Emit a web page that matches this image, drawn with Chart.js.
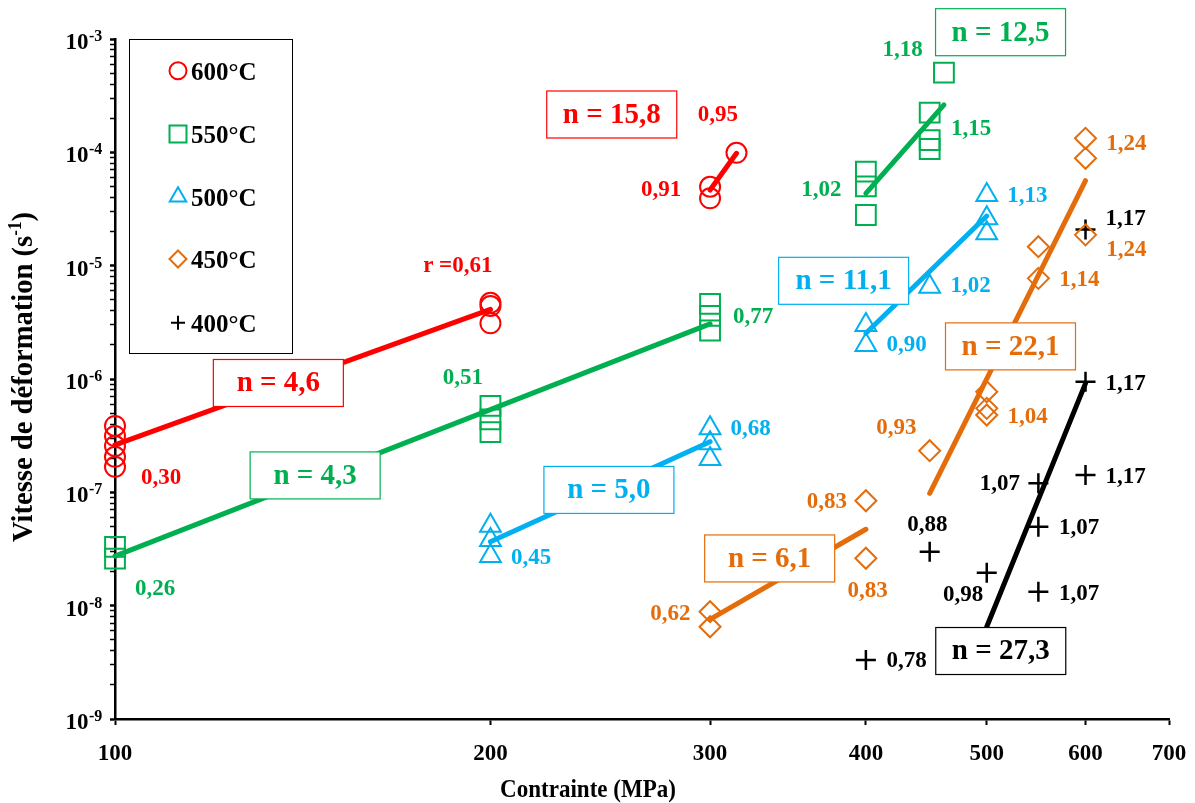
<!DOCTYPE html>
<html>
<head>
<meta charset="utf-8">
<script src="https://cdn.jsdelivr.net/npm/chart.js"></script>
<style>
  body { margin: 0; background: #fff; }
</style>
</head>
<body>
<canvas id="creepChart" width="1195" height="803"></canvas>
<script>
const FONT = "'Liberation Serif', 'Times New Roman', serif"

const temperatures = ['600°C', '550°C', '500°C', '450°C', '400°C']
const colors = ['#ff0000', '#00b050', '#00b0f0', '#e46c0a', '#000000']
const markers = ['circle', 'rect', 'triangle', 'rectRot', 'cross']
const markerRadius = [10, 14, 12, 10.5, 10]
const legendRadius = [8.5, 12, 9.5, 8.5, 7]

// measured points : stress (MPa) and strain rate (s-1)
const stress600 = [100, 100, 100, 100, 100, 200, 200, 200, 300, 300, 315]
const rate600 = [3.85e-7, 3.14e-7, 2.56e-7, 2.06e-7, 1.68e-7, 4.7e-6, 4.4e-6, 3.1e-6, 4.97e-5, 3.93e-5, 9.9e-5]

const stress550 = [100, 100, 200, 200, 200, 300, 300, 300, 400, 400, 400, 450, 450, 450, 462]
const rate550 = [3.3e-8, 2.6e-8, 5.8e-7, 4.4e-7, 3.4e-7, 4.6e-6, 3.6e-6, 2.68e-6, 6.75e-5, 5.0e-5, 2.8e-5, 2.24e-4, 1.28e-4, 1.07e-4, 5.05e-4]

const stress500 = [200, 200, 200, 300, 300, 300, 400, 400, 450, 500, 500, 500]
const rate500 = [5.08e-8, 3.8e-8, 2.74e-8, 3.67e-7, 2.71e-7, 1.97e-7, 2.99e-6, 2.0e-6, 6.52e-6, 4.2e-5, 2.62e-5, 1.93e-5]

const stress450 = [300, 300, 400, 400, 450, 500, 500, 500, 550, 550, 600, 600, 600]
const rate450 = [8.85e-9, 6.52e-9, 8.43e-8, 2.62e-8, 2.33e-7, 7.72e-7, 5.51e-7, 4.81e-7, 1.47e-5, 7.73e-6, 1.33e-4, 8.86e-5, 1.87e-5]

const stress400 = [400, 450, 500, 550, 550, 550, 600, 600, 600]
const rate400 = [3.31e-9, 2.99e-8, 1.95e-8, 1.2e-7, 4.98e-8, 1.33e-8, 9.46e-7, 1.42e-7, 2.09e-5]

const allStress = [stress600, stress550, stress500, stress450, stress400]
const allRate = [rate600, rate550, rate500, rate450, rate400]

// fitted lines (end points)
const fitSeries = [0, 0, 1, 1, 2, 2, 3, 3, 4]
const fitStress = [[100, 200], [300, 315], [100, 300], [400, 462], [200, 300], [400, 500], [300, 400], [450, 600], [500, 600]]
const fitRate = [[2.62e-7, 4.12e-6], [4.65e-5, 9.8e-5], [2.74e-8, 3.06e-6], [4.35e-5, 2.62e-4], [3.67e-8, 2.8e-7], [2.53e-6, 2.74e-5], [7.57e-9, 4.72e-8], [9.8e-8, 5.62e-5], [6.52e-9, 9.16e-7]]

// stress exponent boxes
const nText = ['n = 4,6', 'n = 15,8', 'n = 4,3', 'n = 12,5', 'n = 5,0', 'n = 11,1', 'n = 6,1', 'n = 22,1', 'n = 27,3']
const nSeries = [0, 0, 1, 1, 2, 2, 3, 3, 4]
const nStress = [135.2, 250.2, 144.7, 512.9, 248.9, 383.9, 334.9, 522.4, 513.1]
const nRate = [9.22e-7, 2.157e-4, 1.41e-7, 1.148e-3, 1.05e-7, 7.35e-6, 2.61e-8, 1.94e-6, 3.98e-9]

// small value labels
const noteText = [
  '0,30', 'r =0,61', '0,95', '0,91',
  '0,26', '0,51', '0,77', '1,02', '1,18', '1,15',
  '0,45', '0,68', '0,90', '1,02', '1,13',
  '0,62', '0,83', '0,83', '0,93', '1,04', '1,14', '1,24', '1,24',
  '1,17', '1,17', '1,17', '1,07', '1,07', '1,07', '0,88', '0,98', '0,78'
]
const noteSeries = [0, 0, 0, 0, 1, 1, 1, 1, 1, 1, 2, 2, 2, 2, 2, 3, 3, 3, 3, 3, 3, 3, 3, 4, 4, 4, 4, 4, 4, 4, 4, 4]
const noteStress = [
  108.9, 188.3, 304.3, 274.1,
  107.7, 190.1, 324.8, 368.4, 428.1, 485.7,
  215.6, 323.3, 431.3, 485.3, 538.9,
  278.8, 372.2, 401.2, 423.1, 539.1, 593.3, 647.1, 647.1,
  646.2, 646.2, 646.2, 512.2, 593, 593, 448, 478.6, 431.3
]
const noteRate = [
  1.37e-7, 1.01e-5, 2.165e-4, 4.72e-5,
  1.42e-8, 1.03e-6, 3.6e-6, 4.72e-5, 8.11e-4, 1.65e-4,
  2.67e-8, 3.67e-7, 2.04e-6, 6.75e-6, 4.2e-5,
  8.57e-9, 8.43e-8, 1.37e-8, 3.79e-7, 4.71e-7, 7.59e-6, 1.2e-4, 1.39e-5,
  2.62e-5, 9.16e-7, 1.39e-7, 1.2e-7, 4.91e-8, 1.29e-8, 5.25e-8, 1.27e-8, 3.31e-9
]

const xTicks = [100, 200, 300, 400, 500, 600, 700]
const yDecades = [-9, -8, -7, -6, -5, -4, -3]

const datasets = []
allStress.forEach((xs, s) => {
  datasets.push({
    type: 'scatter',
    label: temperatures[s],
    data: xs.map((x, i) => ({ x: x, y: allRate[s][i] })),
    pointStyle: markers[s],
    pointRadius: markerRadius[s],
    pointBorderWidth: s === 4 ? 2.5 : 2,
    borderColor: colors[s],
    backgroundColor: 'rgba(0,0,0,0)',
    showLine: false,
    clip: false,
    order: 1
  })
})
fitSeries.forEach((s, i) => {
  datasets.push({
    type: 'line',
    label: 'fit',
    data: fitStress[i].map((x, k) => ({ x: x, y: fitRate[i][k] })),
    borderColor: colors[s],
    borderWidth: 5,
    borderCapStyle: 'round',
    pointRadius: 0,
    fill: false,
    clip: false,
    order: 0
  })
})

function drawMarker (c, style, x, y, r) {
  c.beginPath()
  if (style === 'circle') {
    c.arc(x, y, r, 0, Math.PI * 2)
  } else if (style === 'rect') {
    const h = r * Math.SQRT1_2
    c.rect(x - h, y - h, 2 * h, 2 * h)
  } else if (style === 'triangle') {
    c.moveTo(x, y - r)
    c.lineTo(x + r * 0.866, y + r / 2)
    c.lineTo(x - r * 0.866, y + r / 2)
    c.closePath()
  } else if (style === 'rectRot') {
    c.moveTo(x, y - r)
    c.lineTo(x + r, y)
    c.lineTo(x, y + r)
    c.lineTo(x - r, y)
    c.closePath()
  } else {
    c.moveTo(x - r, y)
    c.lineTo(x + r, y)
    c.moveTo(x, y - r)
    c.lineTo(x, y + r)
  }
  c.stroke()
}

// text with a superscript part, squeezed to a target length
function drawSupText (c, parts, targetW) {
  let w = 0
  parts.forEach(p => {
    c.font = 'bold ' + p.size + 'px ' + FONT
    p.w = c.measureText(p.text).width
    w += p.w
  })
  const k = targetW ? targetW / w : 1
  c.save()
  c.scale(k, 1)
  let x = -w / 2
  parts.forEach(p => {
    c.font = 'bold ' + p.size + 'px ' + FONT
    c.fillText(p.text, x, p.rise || 0)
    x += p.w
  })
  c.restore()
}

const decor = {
  id: 'decor',
  afterDraw (chart) {
    const c = chart.ctx
    const xs = chart.scales.x
    const ys = chart.scales.y
    c.save()
    c.fillStyle = '#000'
    c.textBaseline = 'alphabetic'

    // y tick labels 10^n
    yDecades.forEach(e => {
      const py = ys.getPixelForValue(Math.pow(10, e))
      c.textAlign = 'right'
      c.font = 'bold 23px ' + FONT
      c.fillText('10', 88.5, py + 10)
      c.textAlign = 'left'
      c.font = 'bold 16px ' + FONT
      c.fillText('-' + (-e), 89, py + 2)
    })

    // x tick labels
    c.textAlign = 'center'
    c.font = 'bold 23px ' + FONT
    xTicks.forEach(v => {
      c.fillText(String(v), xs.getPixelForValue(v), 760)
    })

    // axis titles
    c.textAlign = 'left'
    c.save()
    c.translate(588, 797)
    drawSupText(c, [{ text: 'Contrainte (MPa)', size: 25 }], 176)
    c.restore()

    c.save()
    c.translate(31.5, 377)
    c.rotate(-Math.PI / 2)
    drawSupText(c, [
      { text: 'Vitesse de déformation (s', size: 30 },
      { text: '-1', size: 18, rise: -11 },
      { text: ')', size: 30 }
    ], 330)
    c.restore()

    // legend
    c.lineWidth = 1
    c.strokeStyle = '#000'
    c.fillStyle = '#fff'
    c.fillRect(129.5, 39.5, 163, 314)
    c.strokeRect(129.5, 39.5, 163, 314)
    const rows = [70.7, 134, 196.7, 259, 322.7]
    temperatures.forEach((t, s) => {
      c.strokeStyle = colors[s]
      c.lineWidth = 2
      drawMarker(c, markers[s], 178, rows[s], legendRadius[s])
      c.fillStyle = '#000'
      c.textAlign = 'left'
      c.font = 'bold 25px ' + FONT
      c.fillText(t, 191, rows[s] + 9)
    })

    // value labels
    c.textAlign = 'center'
    c.textBaseline = 'middle'
    c.font = 'bold 23px ' + FONT
    noteText.forEach((t, i) => {
      c.fillStyle = colors[noteSeries[i]]
      c.fillText(t, xs.getPixelForValue(noteStress[i]), ys.getPixelForValue(noteRate[i]) + 1)
    })

    // n boxes
    c.font = 'bold 29px ' + FONT
    nText.forEach((t, i) => {
      const px = xs.getPixelForValue(nStress[i])
      const py = ys.getPixelForValue(nRate[i])
      c.fillStyle = '#fff'
      c.fillRect(px - 65, py - 23.5, 130, 47)
      c.strokeStyle = colors[nSeries[i]]
      c.lineWidth = 1.2
      c.strokeRect(px - 65, py - 23.5, 130, 47)
      c.fillStyle = colors[nSeries[i]]
      c.fillText(t, px, py + 1)
    })
    c.restore()
  }
}

const ctx = document.getElementById('creepChart').getContext('2d')

new Chart(ctx, {
  type: 'scatter',
  data: { datasets: datasets },
  plugins: [decor],
  options: {
    responsive: false,
    animation: false,
    devicePixelRatio: 1,
    layout: { padding: { top: 39, right: 26, left: 0, bottom: 0 } },
    plugins: {
      legend: { display: false },
      tooltip: { enabled: false }
    },
    scales: {
      x: {
        type: 'logarithmic',
        position: 'bottom',
        min: 100,
        max: 700,
        afterFit: scale => { scale.height = 84 },
        afterBuildTicks: scale => {
          scale.ticks = xTicks.map(v => ({ value: v, major: true }))
        },
        ticks: { display: false },
        grid: {
          drawOnChartArea: false,
          drawTicks: true,
          tickLength: 6,
          tickColor: '#000',
          tickWidth: 2
        },
        border: { display: true, color: '#000', width: 2.5 }
      },
      y: {
        type: 'logarithmic',
        min: 1e-9,
        max: 1e-3,
        afterFit: scale => { scale.width = 115 },
        afterBuildTicks: scale => {
          const t = []
          yDecades.forEach(e => {
            for (let m = 1; m <= 9; m++) {
              if (e === -3 && m > 1) break
              t.push({ value: m * Math.pow(10, e), major: m === 1 })
            }
          })
          scale.ticks = t
        },
        ticks: { display: false },
        grid: {
          drawOnChartArea: false,
          drawTicks: true,
          tickLength: 5,
          tickColor: '#000',
          tickWidth: c => (c.tick && c.tick.major ? 2.5 : 1.5)
        },
        border: { display: true, color: '#000', width: 2.5 }
      }
    }
  }
})
</script>
</body>
</html>
